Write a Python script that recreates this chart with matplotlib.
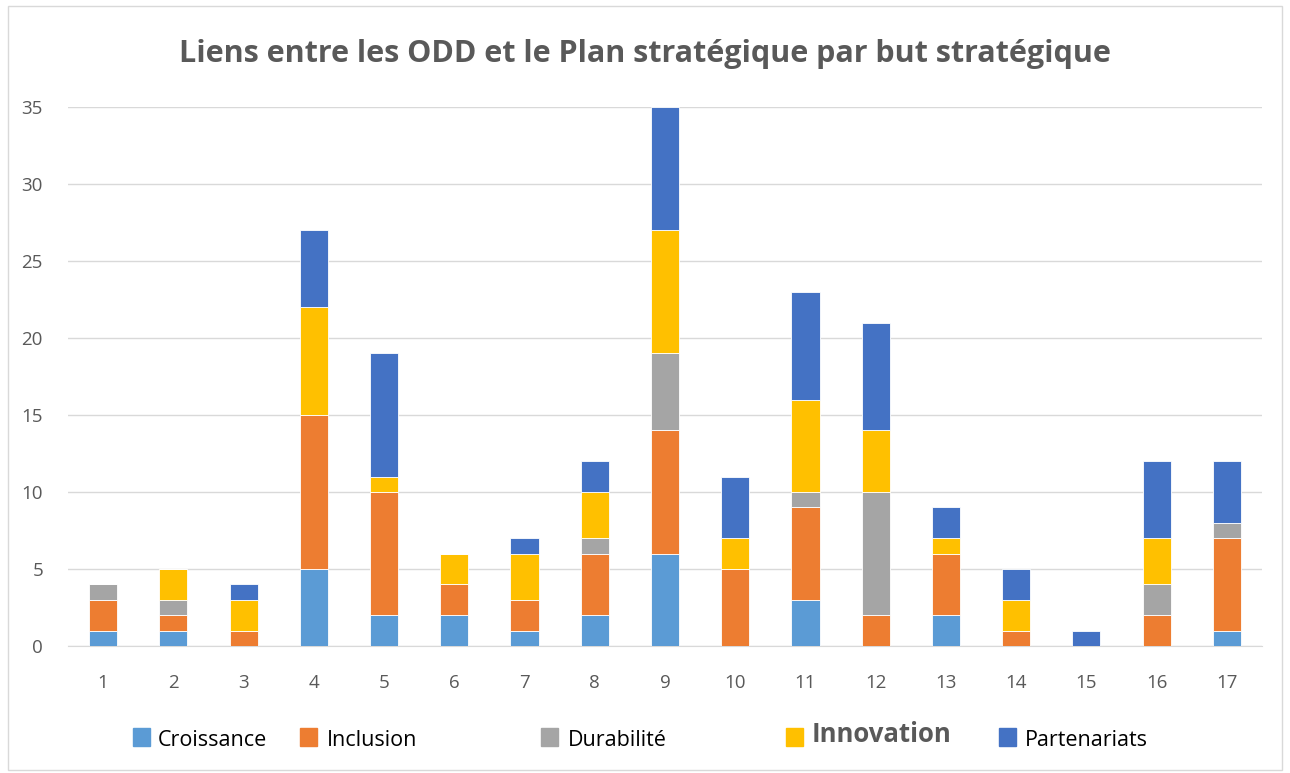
import numpy as np
import matplotlib
matplotlib.use('Agg')
import matplotlib.pyplot as plt
from matplotlib.patches import Rectangle

categories = [str(i) for i in range(1, 18)]
croissance   = [1, 1, 0, 5, 2, 2, 1, 2, 6, 0, 3, 0, 2, 0, 0, 0, 1]
inclusion    = [2, 1, 1, 10, 8, 2, 2, 4, 8, 5, 6, 2, 4, 1, 0, 2, 6]
durabilite   = [1, 1, 0, 0, 0, 0, 0, 1, 5, 0, 1, 8, 0, 0, 0, 2, 1]
innovation   = [0, 2, 2, 7, 1, 2, 3, 3, 8, 2, 6, 4, 1, 2, 0, 3, 0]
partenariats = [0, 0, 1, 5, 8, 0, 1, 2, 8, 4, 7, 7, 2, 2, 1, 5, 4]

series = [
    ('Croissance', croissance, '#5B9BD5'),
    ('Inclusion', inclusion, '#ED7D31'),
    ('Durabilité', durabilite, '#A5A5A5'),
    ('Innovation', innovation, '#FFC000'),
    ('Partenariats', partenariats, '#4472C4'),
]

plt.rcParams['font.family'] = ['Open Sans', 'DejaVu Sans']

fig = plt.figure(figsize=(12.9, 7.73), dpi=100)
ax = fig.add_axes([68 / 1290, 1 - 646 / 773, (1262 - 68) / 1290, (646 - 107) / 773])

x = np.arange(len(categories))
bottom = np.zeros(len(categories))
for name, vals, color in series:
    vals = np.array(vals, dtype=float)
    ax.bar(x, vals, 0.4, bottom=bottom, color=color, edgecolor='white',
           linewidth=0.6, zorder=3)
    bottom += vals

ax.set_xlim(-0.5, len(categories) - 0.5)
ax.set_ylim(0, 35)
ax.set_yticks(range(0, 36, 5))
ax.set_xticks(x)
ax.set_xticklabels(categories)
ax.grid(axis='y', color='#D9D9D9', linewidth=1, zorder=0)
for s in ['top', 'right', 'left']:
    ax.spines[s].set_visible(False)
ax.spines['bottom'].set_color('#D9D9D9')
ax.tick_params(axis='both', length=0, labelsize=13.5, colors='#595959')
ax.tick_params(axis='x', pad=20)
ax.tick_params(axis='y', pad=18)

fig.text(0.5, 1 - 54 / 773, 'Liens entre les ODD et le Plan stratégique par but stratégique',
         ha='center', va='center', fontsize=22, fontweight='bold', color='#595959')

# legend items placed to match the original uneven layout
legend_pos = [(133, 158, 15.5, '#000000', 'normal', 740),
              (300, 327, 15.5, '#000000', 'normal', 740),
              (541, 568, 15.5, '#000000', 'normal', 740),
              (786, 812, 18.5, '#595959', 'bold', 734),
              (999, 1025, 15.5, '#000000', 'normal', 740)]
for (name, vals, color), (px, tx, fs, tc, fw, ty) in zip(series, legend_pos):
    fig.patches.append(Rectangle((px / 1290, 1 - 746 / 773), 17 / 1290, 18 / 773,
                                 transform=fig.transFigure, color=color))
    fig.text(tx / 1290, 1 - ty / 773, name, ha='left', va='center', fontsize=fs,
             color=tc, fontweight=fw)

fig.patches.append(Rectangle((8 / 1290, 3 / 773), 1274 / 1290, 764 / 773,
                             transform=fig.transFigure, fill=False,
                             edgecolor='#D9D9D9', linewidth=1))

fig.savefig('out.png', dpi=100, facecolor='white')
